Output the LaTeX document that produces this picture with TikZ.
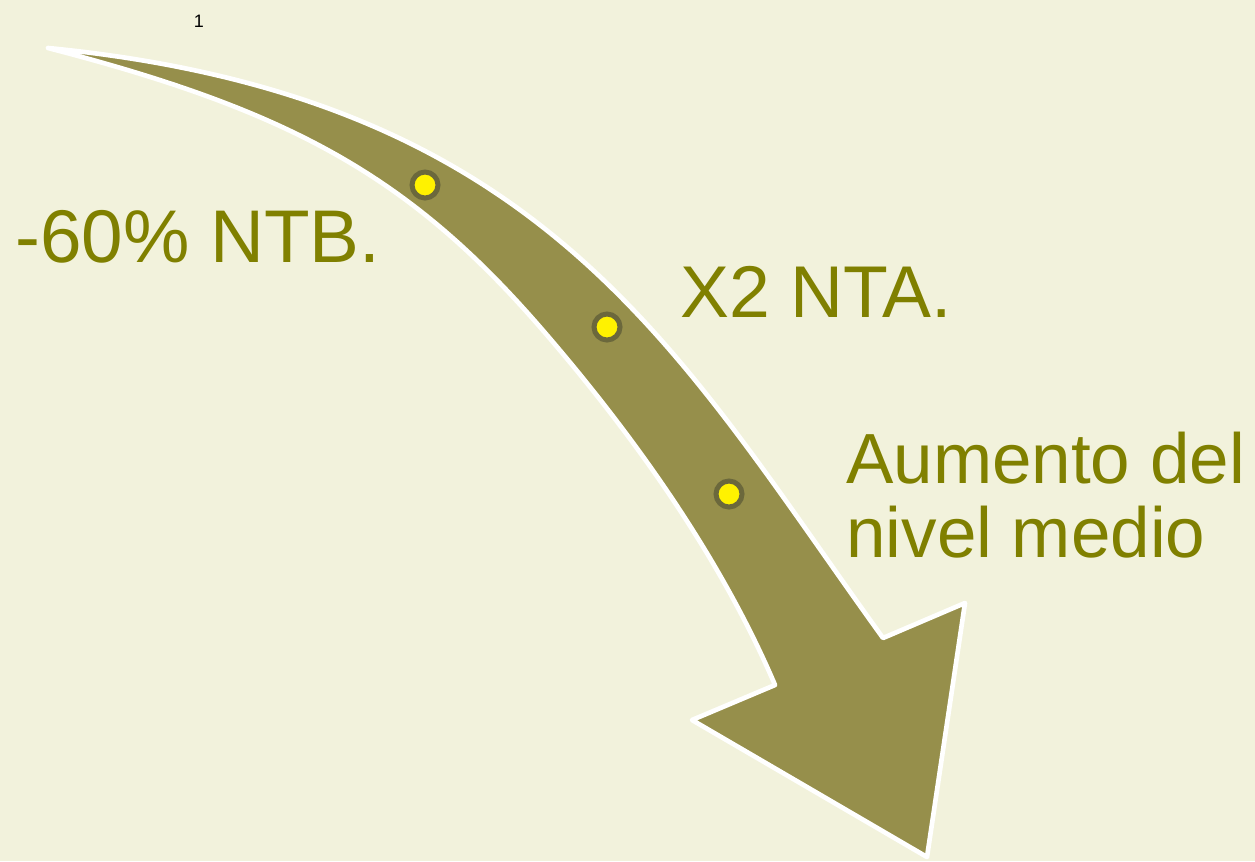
\documentclass[tikz,border=0pt]{standalone}
\usepackage{fontspec}
\setmainfont{Liberation Sans}
\definecolor{bg}{HTML}{F2F2DC}
\definecolor{arrowfill}{HTML}{968F4B}
\definecolor{txt}{HTML}{808000}
\definecolor{ring}{HTML}{6B683C}
\begin{document}
\begin{tikzpicture}[x=0.75pt,y=-0.75pt,
  lbl/.style={text=txt, inner sep=0pt, anchor=base west},
  dot/.style={circle, fill=yellow, draw=ring, line width=3.75pt, minimum size=19.5pt, inner sep=0pt}]
\fill[bg] (0,0) rectangle (1255,861);
\useasboundingbox (0,0) rectangle (1255,861);
% curved arrow
\filldraw[fill=arrowfill, draw=white, line width=3.5pt, line join=round]
  (48,48) .. controls (548,97) and (678,354) .. (883,638)
  -- (965,603) -- (927,857) -- (692,720) -- (775,685)
  .. controls (720,556) and (632,433) .. (540,327)
  .. controls (408.8,176) and (289.8,110.5) .. (48,48) -- cycle;
% dots
\node[dot] (d1) at (425,185) {};
\node[dot] (d2) at (607,327) {};
\node[dot] (d3) at (729,494) {};
% labels
\node[lbl, font=\fontsize{56}{58}\selectfont] (ntb) at (15,262) {-60\% NTB.};
\node[lbl, font=\fontsize{55}{57}\selectfont] (nta) at (680,317) {X2 NTA.};
\node[lbl, font=\fontsize{53.25}{55.5}\selectfont, align=left] (aum) at (846,557) {Aumento del\\nivel medio};
\node[font=\fontsize{13.5}{16}\selectfont, text=black, inner sep=0pt] (pg) at (199,21) {1};
\end{tikzpicture}
\end{document}
